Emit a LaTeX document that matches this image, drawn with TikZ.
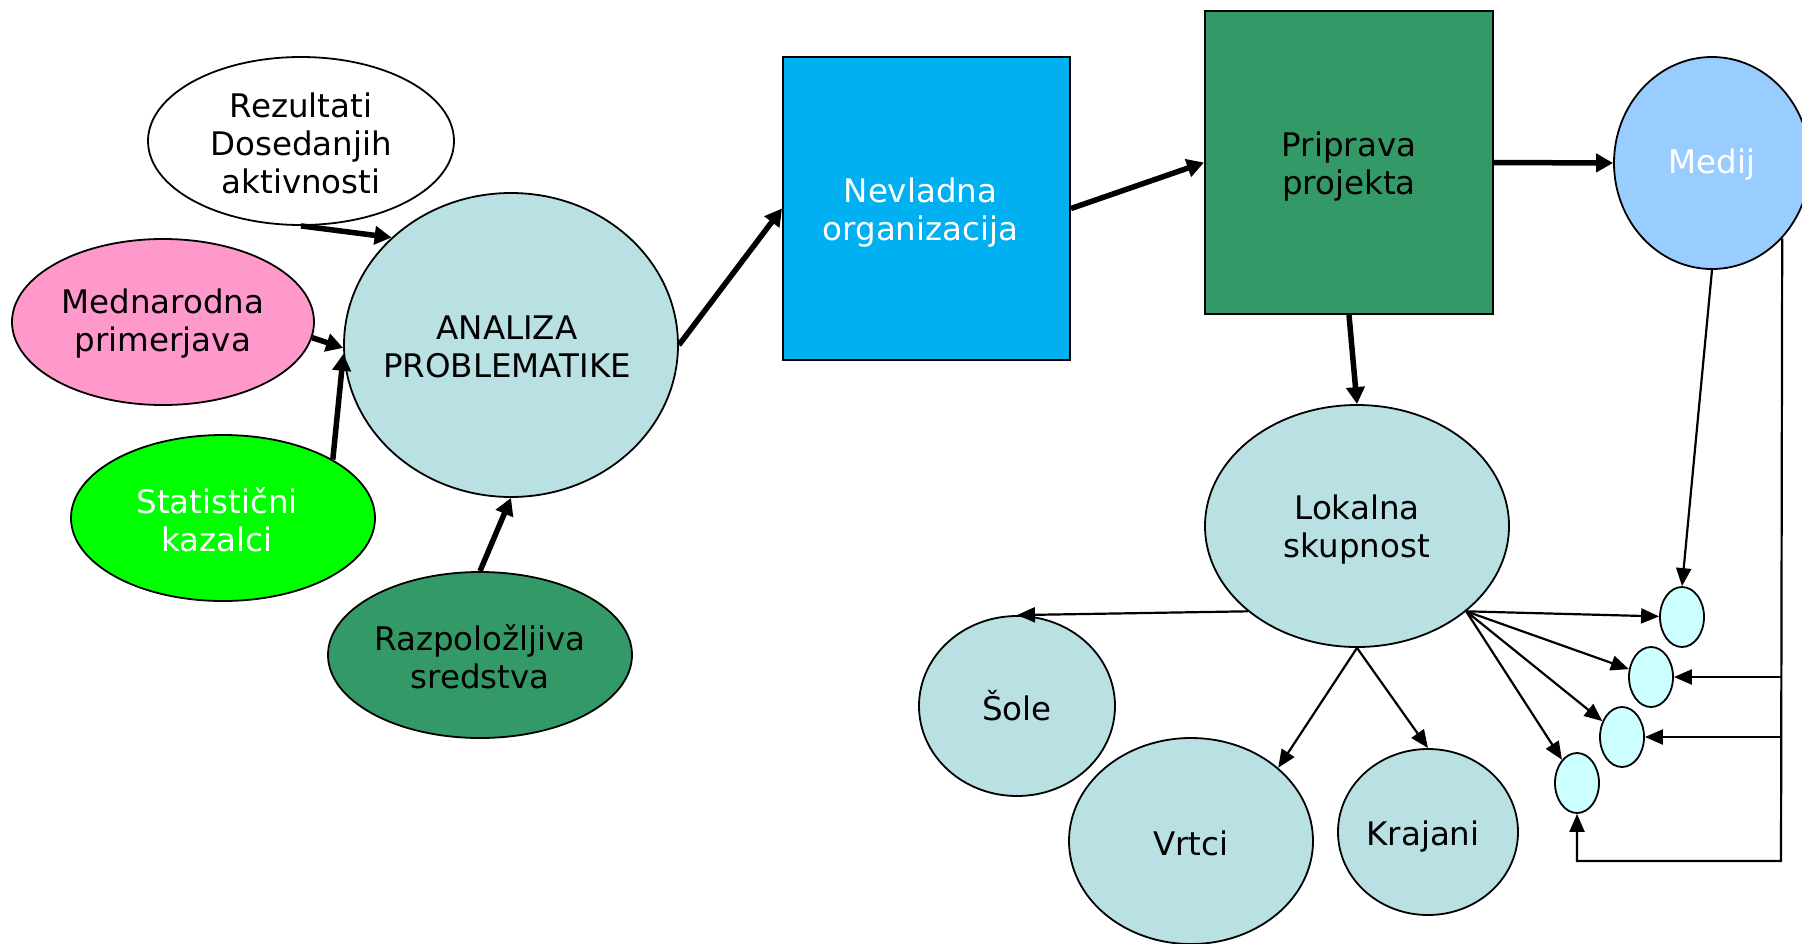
\documentclass[tikz,border=0pt]{standalone}
\usepackage{fontspec}
\setmainfont{DejaVu Sans}
\usetikzlibrary{shapes.geometric,arrows.meta}
\definecolor{lblue}{HTML}{B9E0E3}
\definecolor{pinkc}{HTML}{FF99CC}
\definecolor{greenc}{HTML}{00FF00}
\definecolor{dgreen}{HTML}{339966}
\definecolor{skyc}{HTML}{00B0F0}
\definecolor{medc}{HTML}{99CCFF}
\definecolor{cyanc}{HTML}{CCFFFF}
\begin{document}
\begin{tikzpicture}[x=1pt,y=-1pt,
  txt/.style={align=center,inner sep=0pt,font=\fontsize{32.5}{38}\selectfont},
  el/.style={ellipse,draw,line width=1.8pt,inner sep=0pt},
  bx/.style={rectangle,draw,line width=2pt,inner sep=0pt},
  sm/.style={ellipse,draw,line width=1.8pt,inner sep=0pt,fill=cyanc,minimum width=44pt,minimum height=60pt},
  thk/.style={line width=5.5pt,-{Triangle[length=17pt,width=18pt]}},
  thn/.style={line width=2.2pt,-{Triangle[length=18pt,width=15pt]}}]
\useasboundingbox (0,0) rectangle (1802,943);
\clip (0,0) rectangle (1802,943);
% nodes
\node[el,fill=white,minimum width=306pt,minimum height=168pt] (rez) at (301,141) {};
\node[el,fill=lblue,minimum width=334pt,minimum height=304pt] (ana) at (511,345) {};
\node[el,fill=pinkc,minimum width=302pt,minimum height=166pt] (med) at (163,322) {};
\node[el,fill=greenc,minimum width=304pt,minimum height=166pt] (sta) at (223,518) {};
\node[el,fill=dgreen,minimum width=304pt,minimum height=166pt] (raz) at (480,655) {};
\node[bx,fill=skyc,minimum width=287pt,minimum height=303pt] (nev) at (926.5,208.5) {};
\node[bx,fill=dgreen,minimum width=288pt,minimum height=303pt] (pri) at (1349,162.5) {};
\node[el,fill=medc,minimum width=196pt,minimum height=212pt] (mdj) at (1712,163) {};
\node[el,fill=lblue,minimum width=304pt,minimum height=242pt] (lok) at (1357,526) {};
\node[el,fill=lblue,minimum width=196pt,minimum height=180pt] (sole) at (1017,706) {};
\node[el,fill=lblue,minimum width=244pt,minimum height=206pt] (vrt) at (1191,841) {};
\node[el,fill=lblue,minimum width=180pt,minimum height=166pt] (kra) at (1428,832) {};
\node[sm] (s1) at (1682,617) {};
\node[sm] (s2) at (1651,677) {};
\node[sm] (s3) at (1622,737) {};
\node[sm] (s4) at (1577,783) {};
\coordinate (cr) at (1781,861);
% texts
\node[txt,yshift=-2pt] (trez) at (rez.center) {Rezultati\\Dosedanjih\\aktivnosti};
\node[txt,xshift=-4pt,yshift=-2pt] (tana) at (ana.center) {ANALIZA\\PROBLEMATIKE};
\node[txt,yshift=-2pt] (tmed) at (med.center) {Mednarodna\\primerjava};
\node[txt,text=white,xshift=-6pt,yshift=-2pt] (tsta) at (sta.center) {Statistični\\kazalci};
\node[txt,yshift=-2pt] (traz) at (raz.center) {Razpoložljiva\\sredstva};
\node[txt,text=white,xshift=-6pt,yshift=-4pt] (tnev) at (nev.center) {Nevladna\\organizacija};
\node[txt,yshift=-4pt] (tpri) at (pri.center) {Priprava\\projekta};
\node[txt,text=white,yshift=-2pt] (tmdj) at (mdj.center) {Medij};
\node[txt,yshift=-4pt] (tlok) at (lok.center) {Lokalna\\skupnost};
\node[txt] (tsole) at (sole.center) {Šole};
\node[txt,yshift=-2pt] (tvrt) at (vrt.center) {Vrtci};
\node[txt,xshift=-5pt,yshift=-5pt] (tkra) at (kra.center) {Krajani};
% thick arrows
\draw[thk] (rez.south) -- (ana.138);
\draw[thk] (med.-6) -- (ana.181);
\draw[thk] (sta.28.5) -- (ana.183);
\draw[thk] (raz.north) -- (ana.south);
\draw[thk] (ana.east) -- (nev.west);
\draw[thk] (nev.east) -- (pri.west);
\draw[thk] (pri.east) -- (mdj.west);
\draw[thk] (pri.south) -- (lok.north);
% thin arrows
\draw[thn] (mdj.south) -- (s1.north);
\draw[thn] (lok.-38.5) -- (s1);
\draw[thn] (lok.-38.5) -- (s2);
\draw[thn] (lok.-38.5) -- (s3);
\draw[thn] (lok.-38.5) -- (s4);
\draw[thn] (lok.218.5) -- (sole.north);
\draw[thn] (lok.south) -- (vrt.40.4);
\draw[thn] (lok.south) -- (kra.north);
\draw[thn] (mdj.-47.4) -- (cr) -| (s4.south);
\draw[thn] (cr |- s2.east) -- (s2.east);
\draw[thn] (cr |- s3.east) -- (s3.east);
\end{tikzpicture}
\end{document}
